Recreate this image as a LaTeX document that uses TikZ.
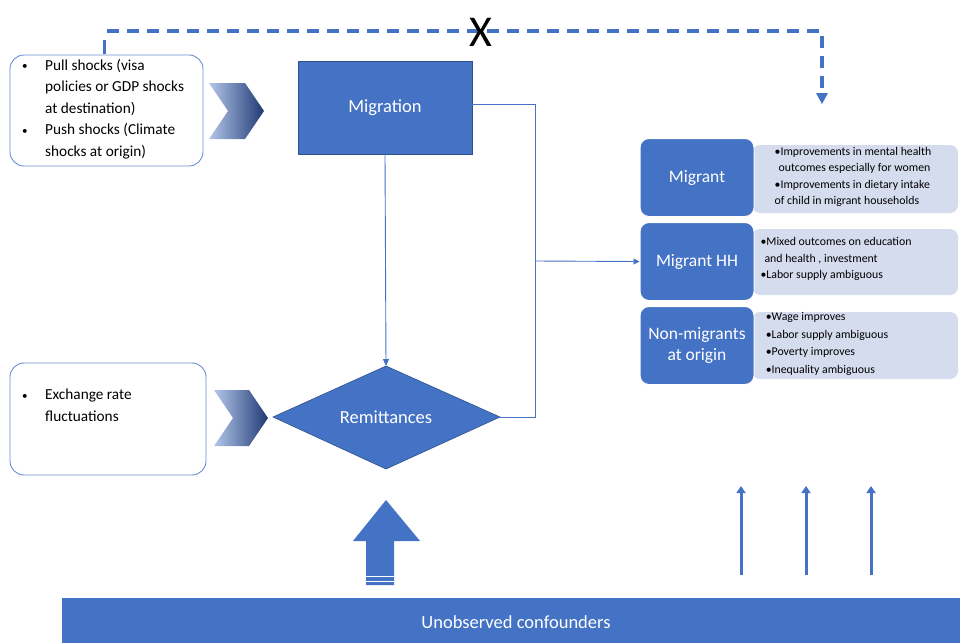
\documentclass[tikz,border=0pt]{standalone}
\usepackage{fontspec}
\setmainfont{Carlito}
\usetikzlibrary{arrows.meta,shapes.geometric}
\definecolor{blu}{HTML}{4472C4}
\definecolor{bludk}{HTML}{2F528F}
\definecolor{lite}{HTML}{D5DCEE}
\definecolor{chevl}{HTML}{B4C6EA}
\definecolor{chevd}{HTML}{1F3A73}
\newcommand{\bul}{\makebox[23pt][l]{\fontsize{11}{11}\selectfont\raisebox{0.5pt}{•}}}
\tikzset{
  srcbox/.style={draw=blu!80, line width=0.9pt, rounded corners=14pt, fill=white},
  bluebox/.style={draw=bludk, line width=0.6pt, fill=blu, text=white, font=\fontsize{18.5}{20}\selectfont},
  catbox/.style={draw=white, line width=1pt, fill=blu, rounded corners=9pt, text=white, align=center, font=\fontsize{17.5}{21}\selectfont},
  effbox/.style={fill=lite, rounded corners=8pt},
  efftext/.style={font=\fontsize{11.8}{16.5}\selectfont, align=left, anchor=center},
  conn/.style={draw=blu, line width=0.9pt},
  dashconn/.style={draw=blu, line width=3.4pt, dash pattern=on 12pt off 8pt},
  thinup/.style={draw=blu, line width=3pt, -{Triangle[length=7pt,width=9pt]}},
}
\begin{document}
\begin{tikzpicture}[x=1pt,y=-1pt]
\useasboundingbox (0,0) rectangle (960,643);

% dashed top connector
\coordinate (d0) at (104,54);
\coordinate (d1) at (104,40);
\coordinate (d2) at (822,31);
\draw[blu, line width=3pt] (d0) -- (d1);
\draw[dashconn] (107,31) -- (d2) -- (822,92);
\fill[blu] (816,93) -- (828,93) -- (822,104) -- cycle;
\node[font=\fontsize{44}{44}\selectfont, text=black, inner sep=0pt] (X) at (481,32) {X};

% left top box
\draw[srcbox] (10,55) rectangle (203,166);
\node[anchor=north west, font=\fontsize{15.3}{21.5}\selectfont, align=left, inner sep=0pt] (pull) at (22,59) {%
\bul Pull shocks (visa\\
\hspace*{23pt}policies or GDP shocks\\
\hspace*{23pt}at destination)\\
\bul Push shocks (Climate\\
\hspace*{23pt}shocks at origin)};

% chevron 1
\shade[left color=chevl, right color=chevd] (209,83) -- (245,83) -- (264,111) -- (245,139) -- (209,139) -- (228,111) -- cycle;

% Migration
\node[bluebox, minimum width=174pt, minimum height=93pt, inner sep=0pt] (mig) at (385,107.5) {Migration};

% Exchange box
\draw[srcbox] (10,363) rectangle (206,475);
\node[anchor=north west, font=\fontsize{15.3}{21.5}\selectfont, align=left, inner sep=0pt] (exch) at (22,389) {%
\bul Exchange rate\\
\hspace*{23pt}fluctuations};

% chevron 2
\shade[left color=chevl, right color=chevd] (214,390) -- (249,390) -- (268,418) -- (249,446) -- (214,446) -- (233,418) -- cycle;

% Remittances diamond
\coordinate (rT) at (386,366);
\coordinate (rB) at (386,469);
\coordinate (rL) at (273,417);
\coordinate (rR) at (500,417);
\filldraw[fill=blu, draw=bludk, line width=0.6pt] (rT) -- (rR) -- (rB) -- (rL) -- cycle;
\node[text=white, font=\fontsize{18.5}{20}\selectfont] (rem) at (386,417) {Remittances};

% connectors
\draw[conn, -{Triangle[length=7pt,width=6pt]}] (mig.south) -- (rT);
\coordinate (j1) at (535,104);
\coordinate (j2) at (535,417);
\coordinate (j3) at (535,261);
\draw[conn] (mig.east |- j1) -- (j1) -- (j2) -- (rR);

% right boxes
\node[effbox, minimum width=206pt, minimum height=68pt, inner sep=0pt] (e1) at (855,179) {};
\node[efftext] at (853,177) {•Improvements in mental health\\\hspace*{4pt}outcomes especially for women\\•Improvements in dietary intake\\of child in migrant households};
\node[catbox, minimum width=114pt, minimum height=78pt, inner sep=0pt] (c1) at (697,177.5) {Migrant};

\node[effbox, minimum width=206pt, minimum height=66pt, inner sep=0pt] (e2) at (855,262) {};
\node[efftext] at (836,259) {•Mixed outcomes on education\\\hspace*{4pt}and health , investment\\•Labor supply ambiguous};
\node[catbox, minimum width=114pt, minimum height=78pt, inner sep=0pt] (c2) at (697,261.5) {Migrant HH};

\node[effbox, minimum width=206pt, minimum height=67pt, inner sep=0pt] (e3) at (855,345.5) {};
\node[efftext, font=\fontsize{11.8}{17.5}\selectfont] at (827,344) {•Wage improves\\•Labor supply ambiguous\\•Poverty improves\\•Inequality ambiguous};
\node[catbox, minimum width=114pt, minimum height=78pt, inner sep=0pt] (c3) at (697,345.5) {Non-migrants\\at origin};

\draw[conn, -{Triangle[length=6pt,width=6pt]}] (j3) -- (c2.west);

% bottom bar
\node[fill=blu, minimum width=898pt, minimum height=45pt, inner sep=0pt] (bar) at (511,620.5) {};
\node[text=white, font=\fontsize{18.5}{20}\selectfont] (conf) at (516,622) {Unobserved confounders};

% big up arrow
\fill[blu] (353,541) -- (386,500) -- (420,541) -- (394,541) -- (394,585) -- (366,585) -- (366,541) -- cycle;
\draw[white, line width=1pt] (366,576.5) -- (394,576.5);
\draw[white, line width=1pt] (366,581.5) -- (394,581.5);

% thin up arrows
\coordinate (a1b) at (741,575); \coordinate (a1t) at (741,486);
\coordinate (a2b) at (806,575); \coordinate (a2t) at (806,486);
\coordinate (a3b) at (871,575); \coordinate (a3t) at (871,486);
\draw[thinup] (a1b) -- (a1t);
\draw[thinup] (a2b) -- (a2t);
\draw[thinup] (a3b) -- (a3t);
\end{tikzpicture}
\end{document}
